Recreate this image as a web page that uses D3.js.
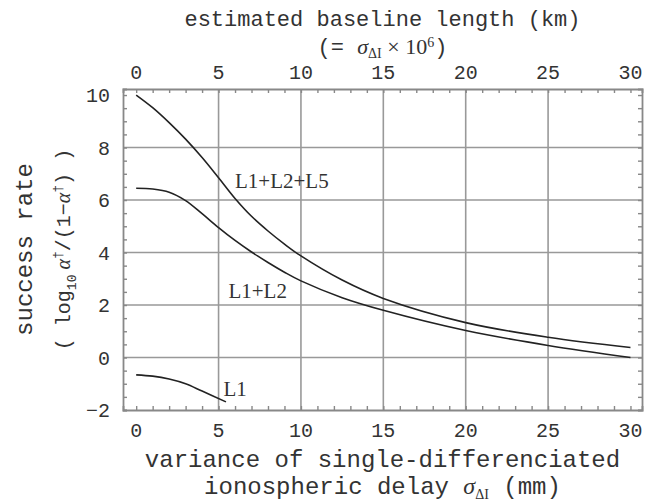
<!DOCTYPE html>
<html>
<head>
<meta charset="utf-8">
<script src="https://cdn.jsdelivr.net/npm/d3@7"></script>
<style>
  body { margin: 0; background: #fff; }
  svg text { fill: #333; }
</style>
</head>
<body>
<div id="d3-container"></div>
<script>
const sigmaL125 = [0, 1, 2, 3, 4, 5, 6, 7, 8, 9, 10, 12.5, 15, 20, 25, 30];
const rateL125  = [10.0, 9.52, 8.95, 8.32, 7.62, 6.85, 6.06, 5.38, 4.82, 4.32, 3.87, 2.95, 2.25, 1.33, 0.77, 0.38];
const sigmaL12 = [0, 1, 2, 3, 4, 5, 6, 7, 8, 9, 10, 12.5, 15, 20, 25, 30];
const rateL12  = [6.45, 6.42, 6.3, 5.98, 5.48, 4.95, 4.46, 4.02, 3.62, 3.25, 2.92, 2.28, 1.8, 1.03, 0.46, 0.0];
const sigmaL1 = [0, 1, 2, 3, 4, 5.45];
const rateL1  = [-0.66, -0.71, -0.82, -1.0, -1.28, -1.69];

const xTicks = [0, 5, 10, 15, 20, 25, 30];
const yTicks = [-2, 0, 2, 4, 6, 8, 10];
const xGrid = [5, 10, 15, 20, 25];
const yGrid = [0, 2, 4, 6, 8];

const curveLabels = [
  { name: "L1+L2+L5", x: 6.0, y: 6.44 },
  { name: "L1+L2", x: 5.6, y: 2.25 },
  { name: "L1", x: 5.3, y: -1.45 }
];

const width = 645;
const height = 503;
const margin = { top: 89, right: 3, bottom: 93, left: 123 };

const svg = d3.select('#d3-container')
  .append('svg')
  .attr('width', width)
  .attr('height', height);

const x = d3.scaleLinear()
  .domain([-0.8, 30.7])
  .range([margin.left, width - margin.right]);

const y = d3.scaleLinear()
  .domain([-2, 10.23])
  .range([height - margin.bottom, margin.top]);

const mono = "'Liberation Mono', 'DejaVu Sans Mono', monospace";
const serif = "'Liberation Serif', 'DejaVu Serif', serif";

// grid
svg.append("g")
  .attr("stroke", "#999")
  .attr("stroke-width", 1.6)
  .call(g => g.selectAll(".vx").data(xGrid).join("line")
    .attr("x1", d => x(d)).attr("x2", d => x(d))
    .attr("y1", y.range()[1]).attr("y2", y.range()[0]))
  .call(g => g.selectAll(".hy").data(yGrid).join("line")
    .attr("x1", x.range()[0]).attr("x2", x.range()[1])
    .attr("y1", d => y(d)).attr("y2", d => y(d)));

// frame with inward ticks on all four sides
function xAxisTop(g) {
  g.attr("transform", `translate(0,${margin.top})`)
    .call(d3.axisBottom(x).tickValues(d3.range(0, 31, 1)).tickSize(4).tickFormat(""))
}
function xAxisBottom(g) {
  g.attr("transform", `translate(0,${height - margin.bottom})`)
    .call(d3.axisTop(x).tickValues(d3.range(0, 31, 1)).tickSize(4).tickFormat(""))
}
function yAxisLeft(g) {
  g.attr("transform", `translate(${margin.left},0)`)
    .call(d3.axisRight(y).tickValues(d3.range(-2, 10.01, 0.5)).tickSize(4).tickFormat(""))
}
function yAxisRight(g) {
  g.attr("transform", `translate(${width - margin.right},0)`)
    .call(d3.axisLeft(y).tickValues(d3.range(-2, 10.01, 0.5)).tickSize(4).tickFormat(""))
}
[xAxisTop, xAxisBottom, yAxisLeft, yAxisRight].forEach(f => {
  svg.append("g").call(f)
    .call(g => g.selectAll("path, line").attr("stroke", "#888").attr("stroke-width", 1.4))
    .call(g => g.select(".domain").attr("stroke-width", 1.8));
});

// tick labels
svg.append("g")
  .attr("font-family", mono).attr("font-size", 20).attr("text-anchor", "middle")
  .selectAll("text").data(xTicks).join("text")
    .attr("x", d => x(d)).attr("y", 79)
    .text(d => d);
svg.append("g")
  .attr("font-family", mono).attr("font-size", 20).attr("text-anchor", "middle")
  .selectAll("text").data(xTicks).join("text")
    .attr("x", d => x(d)).attr("y", 437)
    .text(d => d);
svg.append("g")
  .attr("font-family", mono).attr("font-size", 20).attr("text-anchor", "end")
  .selectAll("text").data(yTicks).join("text")
    .attr("x", 110).attr("y", d => y(d)).attr("dy", "0.35em")
    .text(d => d === -2 ? "\u22122" : d);

// curves
const line = d3.line()
  .x(d => x(d[0]))
  .y(d => y(d[1]))
  .curve(d3.curveCatmullRom.alpha(0.5));

const series = [
  d3.zip(sigmaL125, rateL125),
  d3.zip(sigmaL12, rateL12),
  d3.zip(sigmaL1, rateL1)
];

svg.append("g")
  .attr("fill", "none")
  .attr("stroke", "#222")
  .attr("stroke-width", 1.6)
  .selectAll("path").data(series).join("path")
    .attr("d", line);

svg.append("g")
  .attr("font-family", serif).attr("font-size", 21)
  .selectAll("text").data(curveLabels).join("text")
    .attr("x", d => x(d.x)).attr("y", d => y(d.y))
    .text(d => d.name);

// axis titles
const cx = (margin.left + width - margin.right) / 2;

svg.append("text")
  .attr("font-family", mono).attr("font-size", 22).attr("text-anchor", "middle")
  .attr("x", cx).attr("y", 26)
  .text("estimated baseline length (km)");

const t2 = svg.append("text")
  .attr("font-family", mono).attr("font-size", 22).attr("text-anchor", "middle")
  .attr("x", cx).attr("y", 54);
t2.append("tspan").text("(= ");
t2.append("tspan").attr("font-family", serif).attr("font-style", "italic").text("\u03c3");
t2.append("tspan").attr("font-family", serif).attr("font-size", 14).attr("dy", 4).text("\u0394I");
t2.append("tspan").attr("font-family", serif).attr("dy", -4).text(" \u00d7 10");
t2.append("tspan").attr("font-family", serif).attr("font-size", 14).attr("dy", -7).text("6");
t2.append("tspan").attr("dy", 7).text(")");

svg.append("text")
  .attr("font-family", mono).attr("font-size", 24).attr("text-anchor", "middle")
  .attr("x", cx).attr("y", 467)
  .text("variance of single-differenciated");

const b2 = svg.append("text")
  .attr("font-family", mono).attr("font-size", 24).attr("text-anchor", "middle")
  .attr("x", cx).attr("y", 494);
b2.append("tspan").text("ionospheric delay ");
b2.append("tspan").attr("font-family", serif).attr("font-style", "italic").text("\u03c3");
b2.append("tspan").attr("font-family", serif).attr("font-size", 14).attr("dy", 5).text("\u0394I");
b2.append("tspan").attr("dy", -5).text(" (mm)");

const cy = (margin.top + height - margin.bottom) / 2;

svg.append("text")
  .attr("font-family", mono).attr("font-size", 24).attr("text-anchor", "middle")
  .attr("transform", `translate(32,${cy}) rotate(-90)`)
  .text("success rate");

const l2 = svg.append("text")
  .attr("font-family", mono).attr("font-size", 20).attr("text-anchor", "middle")
  .attr("transform", `translate(70,${cy}) rotate(-90)`);
l2.append("tspan").text("( log");
l2.append("tspan").attr("font-size", 13).attr("dy", 6).text("10");
l2.append("tspan").attr("dy", -6).attr("font-family", serif).attr("font-style", "italic").text(" \u03b1");
l2.append("tspan").attr("font-size", 13).attr("dy", -8).text("\u2020");
l2.append("tspan").attr("dy", 8).text("/(1\u2212");
l2.append("tspan").attr("font-family", serif).attr("font-style", "italic").text("\u03b1");
l2.append("tspan").attr("font-size", 13).attr("dy", -8).text("\u2020");
l2.append("tspan").attr("dy", 8).text(") )");
</script>
</body>
</html>
